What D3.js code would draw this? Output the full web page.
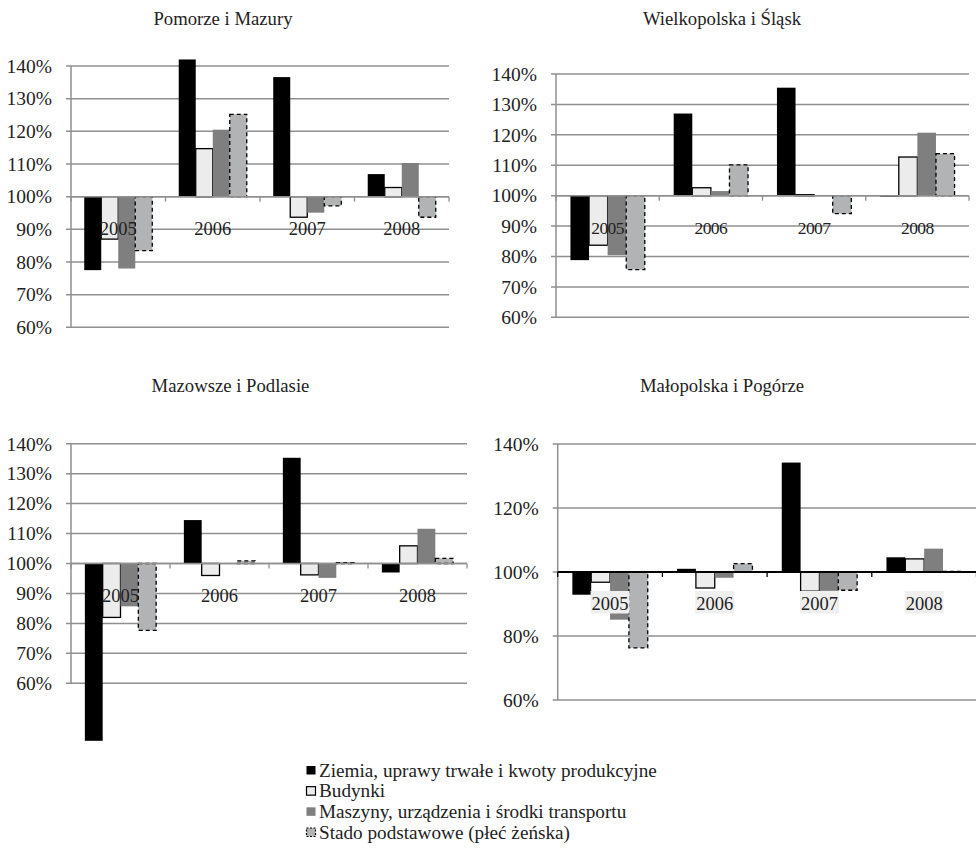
<!DOCTYPE html>
<html>
<head>
<meta charset="utf-8">
<script src="https://cdn.jsdelivr.net/npm/d3@7"></script>
<style>
  html, body { margin: 0; padding: 0; background: #fff; }
  svg { display: block; }
  text { font-family: "Liberation Serif", "DejaVu Serif", serif; fill: #222; }
</style>
</head>
<body>
<svg id="chart" width="976" height="860"></svg>
<script>
// ---------- data ----------
const years = ["2005", "2006", "2007", "2008"];
const seriesNames = [
  "Ziemia, uprawy trwałe i kwoty produkcyjne",
  "Budynki",
  "Maszyny, urządzenia i środki transportu",
  "Stado podstawowe (płeć żeńska)"
];
const regionTitles = ["Pomorze i Mazury", "Wielkopolska i Śląsk", "Mazowsze i Podlasie", "Małopolska i Pogórze"];

// values (%) per series, in order of years
const pomorzeValues = [
  [77.5, 142.0, 136.6, 106.9],
  [87.0, 114.7, 93.7, 102.8],
  [78.0, 120.5, 95.1, 110.3],
  [83.5, 125.2, 97.2, 93.7]
];
const wielkopolskaValues = [
  [78.8, 127.0, 135.5, 99.7],
  [83.7, 102.6, 100.3, 112.7],
  [80.4, 101.5, 100.2, 120.7],
  [75.7, 110.1, 94.1, 113.8]
];
const mazowszeValues = [
  [40.8, 114.5, 135.3, 97.0],
  [82.0, 96.0, 96.2, 105.9],
  [85.7, 100.0, 95.2, 111.6],
  [77.7, 100.9, 100.3, 101.7]
];
const malopolskaValues = [
  [92.9, 101.0, 134.2, 104.6],
  [96.8, 95.0, 94.0, 104.1],
  [85.1, 98.2, 94.1, 107.3],
  [76.3, 102.6, 94.3, 100.2]
];

const ticks10 = [60, 70, 80, 90, 100, 110, 120, 130, 140];
const ticks20 = [60, 80, 100, 120, 140];

// ---------- styles ----------
const fills = ["#000000", "#ececec", "#7f7f7f", "#b1b3b5"];
const strokes = ["none", "#000", "none", "#000"];
const dashes = [null, null, null, "4,3"];
const gridColor = "#8f8f8f";

const svg = d3.select("#chart");

const panels = [
  { title: regionTitles[0], values: pomorzeValues, ticks: ticks10,
    x0: 71, x1: 449, yTop: 66, yBot: 327.3, titleX: 223, titleY: 25, labFont: 18.5, labSpacing: 0, boxes: false, blackAxis: false },
  { title: regionTitles[1], values: wielkopolskaValues, ticks: ticks10,
    x0: 556, x1: 969, yTop: 74, yBot: 317.3, titleX: 722, titleY: 25, labFont: 17.5, labSpacing: -0.6, boxes: false, blackAxis: false },
  { title: regionTitles[2], values: mazowszeValues, ticks: ticks10,
    x0: 71, x1: 467, yTop: 443.7, yBot: 683.3, titleX: 230.5, titleY: 392, labFont: 18.5, labSpacing: 0, boxes: false, blackAxis: false },
  { title: regionTitles[3], values: malopolskaValues, ticks: ticks20,
    x0: 557.7, x1: 976.5, yTop: 444, yBot: 700, titleX: 722, titleY: 392, labFont: 18.5, labSpacing: 0, boxes: true, blackAxis: true }
];

panels.forEach(p => {
  const g = svg.append("g");
  const x = d3.scaleBand().domain(years).range([p.x0, p.x1]).padding(0);
  const step = x.bandwidth();
  const xs = d3.scaleBand().domain(d3.range(4)).range([0.14 * step, 0.86 * step]).padding(0);
  const y = d3.scaleLinear().domain([60, 140]).range([p.yBot, p.yTop]);

  // title
  g.append("text").attr("x", p.titleX).attr("y", p.titleY)
    .attr("text-anchor", "middle").style("font-size", "18.7px").text(p.title);

  // gridlines + y tick labels
  g.selectAll(".grid").data(p.ticks).enter().append("line")
    .attr("x1", p.x0 - 5).attr("x2", p.x1)
    .attr("y1", d => y(d)).attr("y2", d => y(d))
    .attr("stroke", gridColor).attr("stroke-width", 1.5);
  g.selectAll(".ylab").data(p.ticks).enter().append("text")
    .attr("x", p.x0 - 19).attr("y", d => y(d)).attr("dy", "0.35em")
    .attr("text-anchor", "end").style("font-size", "19.5px")
    .text(d => d + "%");
  // y axis line
  g.append("line").attr("x1", p.x0).attr("x2", p.x0)
    .attr("y1", y(140)).attr("y2", y(60))
    .attr("stroke", gridColor).attr("stroke-width", 1.5);

  // bars
  p.values.forEach((vals, si) => {
    g.selectAll(".bar" + si).data(vals).enter().append("rect")
      .attr("x", (d, i) => x(years[i]) + xs(si))
      .attr("width", xs.bandwidth())
      .attr("y", d => Math.min(y(d), y(100)))
      .attr("height", d => Math.abs(y(d) - y(100)))
      .attr("fill", fills[si])
      .attr("stroke", strokes[si])
      .attr("stroke-width", strokes[si] === "none" ? 0 : 1.3)
      .attr("stroke-dasharray", dashes[si]);
  });

  // category axis at 100%
  const axisY = y(100);
  g.append("line").attr("x1", p.x0).attr("x2", p.x1)
    .attr("y1", axisY).attr("y2", axisY)
    .attr("stroke", p.blackAxis ? "#000" : gridColor)
    .attr("stroke-width", p.blackAxis ? 2 : 1.5);
  const bounds = years.map(d => x(d)).concat([p.x1]);
  g.selectAll(".xtick").data(bounds).enter().append("line")
    .attr("x1", d => d).attr("x2", d => d)
    .attr("y1", axisY).attr("y2", axisY + 5)
    .attr("stroke", p.blackAxis ? "#000" : gridColor)
    .attr("stroke-width", 1.3);

  // category labels
  if (p.boxes) {
    g.selectAll(".lbox").data(years).enter().append("rect")
      .attr("x", d => x(d) + step / 2 - 19.5).attr("width", 39)
      .attr("y", axisY + 19).attr("height", 22.5)
      .attr("fill", "#efefef");
  }
  g.selectAll(".xlab").data(years).enter().append("text")
    .attr("x", d => x(d) + step / 2).attr("y", axisY + 38)
    .attr("text-anchor", "middle")
    .style("font-size", p.labFont + "px")
    .style("letter-spacing", p.labSpacing + "px")
    .text(d => d);
});

// ---------- legend ----------
const legendY = d3.scalePoint().domain(d3.range(4)).range([770.5, 832.5]);
const lg = svg.append("g");
d3.range(4).forEach(i => {
  lg.append("rect")
    .attr("x", 306.5).attr("y", legendY(i) - 4.5)
    .attr("width", 9).attr("height", 8.5)
    .attr("fill", fills[i])
    .attr("stroke", i === 0 ? "none" : (i === 2 ? "none" : "#000"))
    .attr("stroke-width", 1.2)
    .attr("stroke-dasharray", i === 3 ? "2,1.5" : null);
  lg.append("text")
    .attr("x", 319).attr("y", legendY(i) + 6)
    .style("font-size", "19.2px")
    .text(seriesNames[i]);
});
</script>
</body>
</html>
